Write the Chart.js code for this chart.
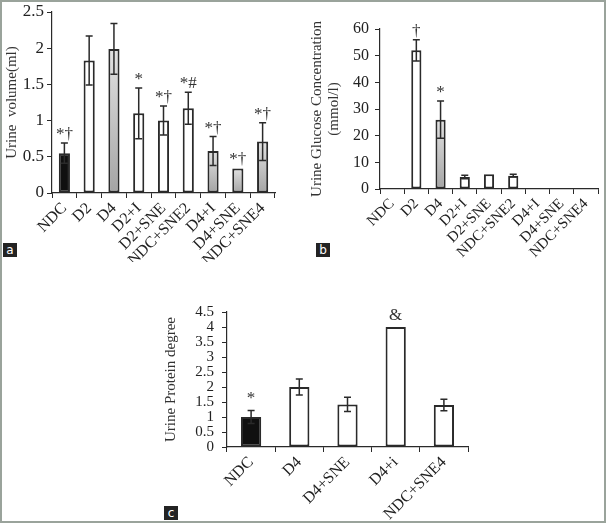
<!DOCTYPE html>
<html lang="en">
<head>
<meta charset="UTF-8">
<title>Urine volume, glucose and protein</title>
<script src="https://cdn.jsdelivr.net/npm/chart.js"></script>
<style>
  html, body { margin: 0; padding: 0; background: #fff; }
  #page { position: relative; width: 607px; height: 523px; overflow: hidden; }
  #edge { position: absolute; left: 0; top: 0; width: 606px; height: 523px; box-sizing: border-box;
          border: 2px solid #9aa39b; pointer-events: none; }
  .panel { position: absolute; }
  .tag { position: absolute; width: 14px; height: 14px; background: #232323; color: #fff;
         font: 12px "DejaVu Sans", sans-serif; line-height: 14px; text-align: center; }
</style>
</head>
<body>
<div id="page">
  <canvas class="panel" id="chartA" width="285" height="262" style="left:0;top:0"></canvas>
  <canvas class="panel" id="chartB" width="305" height="262" style="left:300px;top:0"></canvas>
  <canvas class="panel" id="chartC" width="330" height="258" style="left:150px;top:262px"></canvas>
  <div class="tag" style="left:3px;top:243px">a</div>
  <div class="tag" style="left:316px;top:243px">b</div>
  <div class="tag" style="left:164px;top:506px">c</div>
  <div id="edge"></div>
</div>

<script>
// ---- data ----
const groupsAB = ['NDC', 'D2', 'D4', 'D2+I', 'D2+SNE', 'NDC+SNE2', 'D4+I', 'D4+SNE', 'NDC+SNE4'];

const volume      = [0.55, 1.83, 1.99, 1.10, 1.00, 1.17, 0.58, 0.34, 0.71];
const volumeErr   = [0.14, 0.34, 0.35, 0.35, 0.20, 0.22, 0.20, 0, 0.26];
const volumeMarks = ['*†', '', '', '*', '*†', '*#', '*†', '*†', '*†'];
const volumeTicks = [0, 0.5, 1, 1.5, 2, 2.5];

const glucose      = [0, 52, 26, 4.5, 5.5, 5, 0, 0, 0];
const glucoseErr   = [0, 4, 7, 0.7, 0, 0.5, 0, 0, 0];
const glucoseMarks = ['', '†', '*', '', '', '', '', '', ''];
const glucoseTicks = [0, 10, 20, 30, 40, 50, 60];

const groupsC      = ['NDC', 'D4', 'D4+SNE', 'D4+i', 'NDC+SNE4'];
const protein      = [1.0, 2.0, 1.42, 4.0, 1.4];
const proteinErr   = [0.22, 0.27, 0.24, 0, 0.19];
const proteinMarks = ['*', '', '', '&', ''];
const proteinTicks = [0, 0.5, 1, 1.5, 2, 2.5, 3, 3.5, 4, 4.5];

// bar fill kind per group
const fillA = ['black', 'white', 'gray', 'white', 'white', 'white', 'gray', 'gray', 'gray'];
const fillB = ['white', 'white', 'gray', 'white', 'white', 'white', 'white', 'white', 'white'];
const fillC = ['black', 'white', 'white', 'white', 'white'];

const SERIF = '"Liberation Serif", "Times New Roman", serif';
const INK = '#2a2a2a';

function fillFor(kinds) {
  return function (c) {
    const kind = kinds[c.dataIndex];
    if (kind === 'black') return '#101010';
    if (kind === 'white') return '#ffffff';
    const chart = c.chart, y = chart.scales.y;
    if (!chart.chartArea || !y) return '#bdbdbd';
    const top = y.getPixelForValue(c.raw), bot = y.getPixelForValue(0);
    if (!(bot > top)) return '#bdbdbd';
    const g = chart.ctx.createLinearGradient(0, top, 0, bot);
    g.addColorStop(0, '#e2e2e2');
    g.addColorStop(1, '#a4a4a4');
    return g;
  };
}

// error bars and significance marks, drawn over the bars
function errorPlugin(values, errs, marks, cap, gap, markSize) {
  return {
    id: 'errorBars',
    afterDatasetsDraw(chart) {
      const ctx = chart.ctx, y = chart.scales.y;
      const meta = chart.getDatasetMeta(0);
      ctx.save();
      ctx.strokeStyle = INK;
      ctx.lineWidth = 1.5;
      ctx.fillStyle = '#333';
      ctx.font = markSize + 'px ' + SERIF;
      ctx.textAlign = 'center';
      ctx.textBaseline = 'alphabetic';
      meta.data.forEach(function (bar, i) {
        const v = values[i], e = errs[i];
        const top = y.getPixelForValue(v + e);
        if (e > 0) {
          const bot = y.getPixelForValue(v - e);
          ctx.beginPath();
          ctx.moveTo(bar.x, top); ctx.lineTo(bar.x, bot);
          ctx.moveTo(bar.x - cap, top); ctx.lineTo(bar.x + cap, top);
          ctx.moveTo(bar.x - cap, bot); ctx.lineTo(bar.x + cap, bot);
          ctx.stroke();
        }
        if (marks[i]) ctx.fillText(marks[i], bar.x, top - gap);
      });
      ctx.restore();
    }
  };
}

function makeChart(id, labels, values, errs, marks, kinds, ticks, title, f) {
  return new Chart(document.getElementById(id), {
    type: 'bar',
    data: {
      labels: labels,
      datasets: [{
        data: values,
        backgroundColor: fillFor(kinds),
        borderColor: INK,
        borderWidth: c => (c.raw === 0 ? 0 : 2),
        borderSkipped: false,
        barPercentage: f.barPct,
        categoryPercentage: 1
      }]
    },
    options: {
      responsive: false,
      animation: false,
      devicePixelRatio: 1,
      layout: { padding: { top: f.padTop, right: f.padRight, left: 0, bottom: 0 } },
      plugins: { legend: { display: false }, tooltip: { enabled: false } },
      scales: {
        x: {
          grid: { offset: true, drawOnChartArea: false, tickLength: 5, color: INK, lineWidth: 1 },
          border: { color: INK, width: 1.2 },
          ticks: { minRotation: 45, maxRotation: 45, autoSkip: false, color: '#222', padding: 1,
                   font: { family: SERIF, size: f.xFont } },
          afterFit: s => { s.height = f.xHeight; }
        },
        y: {
          min: 0,
          max: ticks[ticks.length - 1],
          afterBuildTicks: s => { s.ticks = ticks.map(v => ({ value: v })); },
          grid: { drawOnChartArea: false, tickLength: 5, color: INK, lineWidth: 1 },
          border: { color: INK, width: 1.2 },
          ticks: { autoSkip: false, color: '#222', padding: f.yPad,
                   font: { family: SERIF, size: f.yFont, lineHeight: 1 },
                   callback: v => String(v) },
          title: { display: true, text: title, color: '#333', padding: { top: f.titlePad, bottom: 0 },
                   font: { family: SERIF, size: f.titleFont, lineHeight: 1.1 } },
          afterFit: s => { s.width = f.yWidth; }
        }
      }
    },
    plugins: [errorPlugin(values, errs, marks, f.cap, f.gap, f.markSize)]
  });
}

makeChart('chartA', groupsAB, volume, volumeErr, volumeMarks, fillA, volumeTicks, 'Urine  volume(ml)',
  { barPct: 0.45, padTop: 12, padRight: 10, xHeight: 69, yWidth: 52, xFont: 16, yFont: 17, yPad: 3,
    titleFont: 15, titlePad: 4, cap: 3.5, gap: 4, markSize: 17 });

makeChart('chartB', groupsAB, glucose, glucoseErr, glucoseMarks, fillB, glucoseTicks,
  ['Urine Glucose Concentration', '(mmol/l)'],
  { barPct: 0.42, padTop: 29, padRight: 7, xHeight: 73, yWidth: 80, xFont: 15, yFont: 16, yPad: 6,
    titleFont: 15, titlePad: 9, cap: 3.5, gap: 4, markSize: 17 });

makeChart('chartC', groupsC, protein, proteinErr, proteinMarks, fillC, proteinTicks, 'Urine Protein degree',
  { barPct: 0.42, padTop: 50, padRight: 12, xHeight: 73, yWidth: 77, xFont: 16, yFont: 15, yPad: 8,
    titleFont: 15, titlePad: 13, cap: 3.5, gap: 7, markSize: 17 });
</script>
</body>
</html>
